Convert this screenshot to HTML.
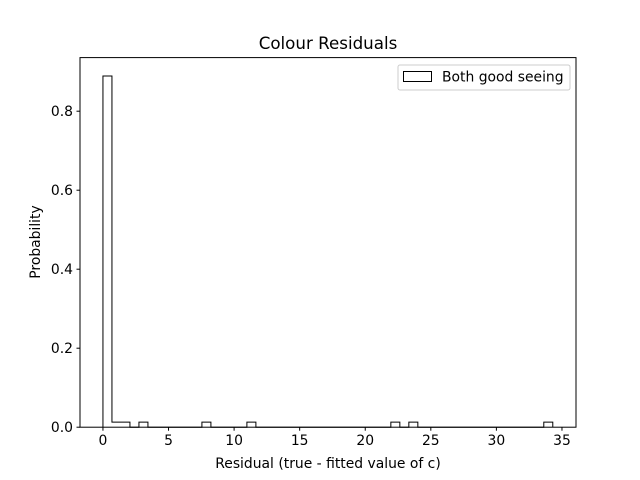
<!DOCTYPE html>
<html><head><meta charset="utf-8"><style>
body{margin:0;background:#fff}
svg{display:block;font-family:"DejaVu Sans","Liberation Sans",sans-serif}
</style></head><body>
<svg id="chart" width="640" height="480" viewBox="0 0 640 480">
<rect width="640" height="480" fill="#fff"/>
<text x="328" y="49" text-anchor="middle" font-size="16.7">Colour Residuals</text>
<g id="marks"></g>
<rect x="80" y="57.6" width="496" height="369.6" fill="none" stroke="#000" stroke-width="1"/>
<g id="xt"></g><g id="yt"></g>
<text x="328" y="468" text-anchor="middle" font-size="13.9">Residual (true - fitted value of c)</text>
<text transform="translate(40,242) rotate(-90)" text-anchor="middle" font-size="13.9">Probability</text>
<g>
<rect x="398" y="65" width="172" height="25" rx="2" fill="#fff" stroke="#ccc"/>
<rect x="403.5" y="71.5" width="28" height="10" fill="none" stroke="#000"/>
<text x="442" y="81.5" font-size="13.9">Both good seeing</text>
</g>
</svg>
<script>
const binStart = 0;
const binEnd = 34.3;
const densities = [0.889,0.0127,0.0127,0,0.0127,0,0,0,0,0,0,0.0127,0,0,0,0,0.0127,0,0,0,0,0,0,0,0,0,0,0,0,0,0,0,0.0127,0,0.0127,0,0,0,0,0,0,0,0,0,0,0,0,0,0,0.0127];
const xTicks = [0,5,10,15,20,25,30,35];
const yTicks = [0,0.2,0.4,0.6,0.8];
const yTickLabels = ["0.0","0.2","0.4","0.6","0.8"];
const NS="http://www.w3.org/2000/svg";
const X0=80,X1=576,Y0=427.2,Y1=57.6, xmin=-1.75,xmax=36.07,ymin=0,ymax=0.9357;
const sx=v=>X0+(v-xmin)/(xmax-xmin)*(X1-X0);
const sy=v=>Y0-(v-ymin)/(ymax-ymin)*(Y0-Y1);
const w=(binEnd-binStart)/densities.length;
let d="M"+sx(binStart)+","+sy(0);
densities.forEach((v,i)=>{d+=" L"+sx(binStart+i*w)+","+sy(v)+" L"+sx(binStart+(i+1)*w)+","+sy(v);});
d+=" L"+sx(binEnd)+","+sy(0);
const p=document.createElementNS(NS,"path");
p.setAttribute("d",d);p.setAttribute("fill","none");p.setAttribute("stroke","#000");p.setAttribute("stroke-width","1");


document.getElementById("marks").appendChild(p);
const xt=document.getElementById("xt");
xTicks.forEach(t=>{
 const l=document.createElementNS(NS,"line");
 l.setAttribute("x1",sx(t));l.setAttribute("x2",sx(t));l.setAttribute("y1",Y0);l.setAttribute("y2",Y0+3.5);l.setAttribute("stroke","#000");
 
 
 xt.appendChild(l);
 const tx=document.createElementNS(NS,"text");
 tx.setAttribute("x",sx(t));tx.setAttribute("y",Y0+18);tx.setAttribute("text-anchor","middle");tx.setAttribute("font-size","13.9");
 tx.textContent=t;
 
 
 xt.appendChild(tx);
});
const yt=document.getElementById("yt");
yTicks.forEach((t,i)=>{
 const l=document.createElementNS(NS,"line");
 l.setAttribute("x1",X0-3.5);l.setAttribute("x2",X0);l.setAttribute("y1",sy(t));l.setAttribute("y2",sy(t));l.setAttribute("stroke","#000");
 
 
 yt.appendChild(l);
 const tx=document.createElementNS(NS,"text");
 tx.setAttribute("x",X0-7);tx.setAttribute("y",sy(t)+5);tx.setAttribute("text-anchor","end");tx.setAttribute("font-size","13.9");
 tx.textContent=yTickLabels[i];
 
 
 yt.appendChild(tx);
});
</script>
</body></html>
